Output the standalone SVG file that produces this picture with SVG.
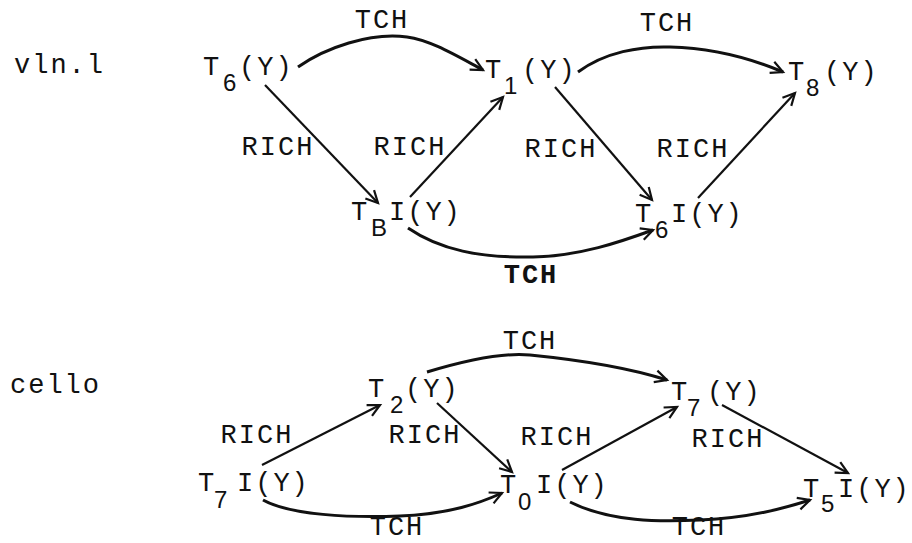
<svg xmlns="http://www.w3.org/2000/svg" width="912" height="543" viewBox="0 0 912 543">
<style>
.m{font-family:"Liberation Mono","Courier New",monospace;font-size:27px;letter-spacing:2px;fill:#111;}
.s{font-family:"Liberation Sans",Arial,sans-serif;font-size:24px;fill:#111;}
.lab{font-family:"Liberation Mono","Courier New",monospace;font-size:27px;letter-spacing:2px;fill:#111;text-anchor:middle;}
.b{font-weight:bold;}
.e{fill:none;stroke:#111;stroke-width:2.2;marker-end:url(#ah);}
.c{fill:none;stroke:#111;stroke-width:3;marker-end:url(#ah);}
</style>
<defs>
<marker id="ah" markerUnits="userSpaceOnUse" markerWidth="16" markerHeight="16" refX="13" refY="7" orient="auto" viewBox="0 0 16 14">
<path d="M1,1 L13,7 L1,13" fill="none" stroke="#111" stroke-width="2.2"/>
</marker>
</defs>
<rect width="912" height="543" fill="#fff"/>
<text class="m" x="14" y="73">vln.l</text>
<text class="m" x="10" y="393">cello</text>

<g id="connectors">
<path class="c" d="M298,67 C325,48 370,32 407,37 C430,40 455,55 483,70"/>
<path class="c" d="M578,72 C605,52 640,46 670,47 C710,48 750,58 783,72"/>
<path class="e" d="M265,85 L378,203"/>
<path class="e" d="M410,197 L503,97"/>
<path class="e" d="M555,87 L652,200"/>
<path class="e" d="M698,198 L795,93"/>
<path class="c" d="M408,228 C440,250 480,258 533,257 C580,256 620,242 653,230"/>
<path class="c" d="M427,372 C460,362 500,352 530,355 C560,358 620,365 667,380"/>
<path class="e" d="M262,465 L380,405"/>
<path class="e" d="M437,403 L512,472"/>
<path class="e" d="M562,470 L677,407"/>
<path class="e" d="M722,405 L848,473"/>
<path class="c" d="M263,500 C290,515 350,518 400,516 C450,514 480,503 502,493"/>
<path class="c" d="M570,502 C610,522 660,522 700,520 C750,518 785,508 810,500"/>
</g>

<g id="labels">
<text class="lab" x="382" y="28">TCH</text>
<text class="lab" x="667" y="31">TCH</text>
<text class="lab" x="278" y="155">RICH</text>
<text class="lab" x="410" y="155">RICH</text>
<text class="lab" x="561" y="157">RICH</text>
<text class="lab" x="693" y="157">RICH</text>
<text class="lab b" x="531" y="283">TCH</text>
<text class="lab" x="530" y="349">TCH</text>
<text class="lab" x="257" y="443">RICH</text>
<text class="lab" x="425" y="443">RICH</text>
<text class="lab" x="557" y="445">RICH</text>
<text class="lab" x="728" y="447">RICH</text>
<text class="lab" x="397" y="535">TCH</text>
<text class="lab" x="699" y="535">TCH</text>
</g>

<g id="n-T6Y"><text class="m" x="203" y="75">T</text><text class="s" x="223" y="91">6</text><text class="m" x="239" y="75">(Y)</text></g>
<g id="n-T1Y"><text class="m" x="485" y="78">T</text><text class="s" x="504" y="94">1</text><text class="m" x="522" y="78">(Y)</text></g>
<g id="n-T8Y"><text class="m" x="788" y="80">T</text><text class="s" x="806" y="96">8</text><text class="m" x="824" y="80">(Y)</text></g>
<g id="n-TBIY"><text class="m" x="351" y="220">T</text><text class="s" x="371" y="236">B</text><text class="m" x="389" y="220">I(Y)</text></g>
<g id="n-T6IY"><text class="m" x="635" y="222">T</text><text class="s" x="655" y="238">6</text><text class="m" x="671" y="222">I(Y)</text></g>
<g id="n-T2Y"><text class="m" x="368" y="397">T</text><text class="s" x="390" y="413">2</text><text class="m" x="405" y="397">(Y)</text></g>
<g id="n-T7Y"><text class="m" x="671" y="400">T</text><text class="s" x="687" y="416">7</text><text class="m" x="707" y="400">(Y)</text></g>
<g id="n-T7IY"><text class="m" x="198" y="491">T</text><text class="s" x="214" y="508">7</text><text class="m" x="237" y="491">I(Y)</text></g>
<g id="n-T0IY"><text class="m" x="500" y="493">T</text><text class="s" x="518" y="510">0</text><text class="m" x="536" y="493">I(Y)</text></g>
<g id="n-T5IY"><text class="m" x="803" y="497">T</text><text class="s" x="821" y="512">5</text><text class="m" x="838" y="497">I(Y)</text></g>
</svg>
